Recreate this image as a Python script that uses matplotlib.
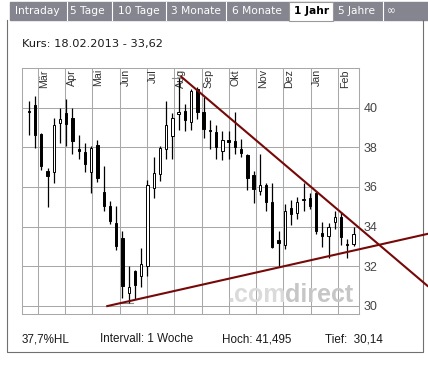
import matplotlib
matplotlib.use("Agg")
import matplotlib.pyplot as plt
import matplotlib.dates as mdates
from matplotlib.patches import Rectangle
import pandas as pd
import numpy as np

plt.rcParams["font.family"] = ["Liberation Sans", "DejaVu Sans"]

# Wochenkerzen (Montag der Woche)
week_start = "2012-02-20"
opens = [39.85, 40.17, 38.67, 36.80, 36.77, 39.26, 39.72, 39.50, 37.90, 37.75,
         36.77, 38.12, 35.76, 35.04, 34.16, 33.40, 30.66, 31.76, 31.52, 32.00,
         35.93, 36.64, 37.91, 38.60, 39.67, 39.85, 39.29, 40.93, 39.80, 38.86,
         38.76, 37.81, 38.37, 38.33, 37.91, 37.61, 36.60, 35.80, 36.10, 35.25,
         33.32, 33.05, 34.95, 34.67, 35.32, 35.42, 35.68, 33.66, 33.54, 34.24,
         34.49, 33.12, 33.10]
highs = [40.35, 40.60, 38.72, 36.94, 39.50, 40.00, 40.44, 39.97, 38.62, 38.20,
         38.08, 38.37, 37.07, 35.29, 35.05, 33.77, 32.00, 31.80, 32.92, 36.35,
         37.53, 38.05, 40.37, 39.73, 41.495, 40.18, 40.95, 41.05, 40.56, 39.40,
         39.13, 38.83, 38.84, 39.77, 38.45, 37.65, 36.80, 37.65, 36.20, 36.20,
         33.80, 35.12, 35.35, 35.47, 36.20, 35.70, 35.80, 34.25, 34.20, 34.77,
         34.75, 33.36, 33.97]
lows = [38.65, 37.95, 36.85, 35.00, 36.20, 38.23, 38.08, 37.65, 37.41, 36.74,
        35.68, 36.26, 34.78, 34.11, 32.81, 30.37, 30.14, 30.35, 30.96, 31.52,
        35.46, 36.32, 37.41, 37.43, 38.90, 38.85, 38.90, 39.45, 38.46, 37.90,
        37.39, 37.38, 37.40, 37.65, 37.50, 35.85, 35.20, 35.60, 34.80, 32.93,
        32.00, 32.88, 34.10, 34.40, 34.80, 34.90, 33.60, 32.95, 32.40, 33.90,
        33.07, 32.43, 33.00]
closes = [39.80, 38.62, 37.07, 36.55, 39.13, 39.46, 39.18, 38.32, 37.83, 37.16,
          37.95, 36.46, 35.05, 34.29, 33.03, 31.01, 30.96, 31.07, 32.09, 36.10,
          36.69, 37.95, 39.13, 39.48, 39.80, 39.38, 40.84, 39.80, 38.92, 38.82,
          38.00, 38.37, 38.26, 38.00, 37.70, 36.48, 35.90, 36.10, 35.22, 32.98,
          33.18, 34.78, 34.62, 35.25, 35.36, 35.04, 33.77, 33.52, 33.99, 34.49,
          33.45, 33.05, 33.62]

# Trendlinien (Endpunkte)
trend_hi_dates = ["2012-08-09", "2013-05-12"]
trend_hi_vals = [41.57, 31.00]
trend_lo_dates = ["2012-05-18", "2013-05-12"]
trend_lo_vals = [29.98, 33.63]

month_labels = ["Mär", "Apr", "Mai", "Jun", "Jul", "Aug", "Sep", "Okt",
                "Nov", "Dez", "Jan", "Feb"]
y_ticks = [30, 32, 34, 36, 38, 40]

tab_labels = ["Intraday", "5 Tage", "10 Tage", "3 Monate", "6 Monate",
              "1 Jahr", "5 Jahre", "\u221e"]
active_tab = "1 Jahr"

dates = pd.date_range(week_start, periods=len(opens), freq="7D")
opens, highs, lows, closes = map(np.array, (opens, highs, lows, closes))

fig = plt.figure(figsize=(4.28, 3.67), dpi=100)

# --- Rahmen, Reiter, Texte (Pixelkoordinaten) ---
bg = fig.add_axes([0, 0, 1, 1])
bg.set_xlim(0, 428)
bg.set_ylim(367, 0)
bg.axis("off")

bg.add_patch(Rectangle((10, 2), 418, 18, color="#85858f", zorder=1))
tab_x = [15, 70, 118, 171, 232, 294, 338, 387]
for sx in [66.7, 112.3, 165.7, 225.7, 383.3]:
    bg.plot([sx, sx], [2, 20], color="white", lw=0.8, zorder=2)
bg.add_patch(Rectangle((289, 2), 44, 19, fc="white", ec="#9a9a9a", lw=0.8, zorder=3))
for lab, tx in zip(tab_labels, tab_x):
    act = lab == active_tab
    bg.text(tx, 11.5, lab, fontsize=7.7, family=["DejaVu Sans"],
            color="black" if act else "white",
            fontweight="bold" if act else "normal",
            ha="left", va="center", zorder=4)

bg.plot([7, 7, 423, 423], [20, 352, 352, 20], color="#707070", lw=0.8)

bg.text(22, 44, f"Kurs: {dates[-1]:%d.%m.%Y} - " + f"{closes[-1]:.2f}".replace(".", ","),
        fontsize=8.2, family=["DejaVu Sans"], color="#1a1a1a", ha="left", va="center")

hoch, tief = highs.max(), lows.min()
hl = (hoch - tief) / tief * 100
de = lambda v: f"{v:g}".replace(".", ",")
bottom = [(22, f"{hl:.1f}".replace(".", ",") + "%HL"),
          (100, "Intervall: 1 Woche"),
          (222, "Hoch: " + de(hoch)),
          (325, "Tief:  " + de(tief))]
for bx, s in bottom:
    bg.text(bx, 339, s, fontsize=8.4, color="#1a1a1a", ha="left", va="center")

# --- Kerzenchart ---
ax = fig.add_axes([22 / 428, 1 - 314 / 367, (359.3 - 22) / 428, (314 - 68.3) / 367])
ax.set_facecolor("white")
x0 = pd.Timestamp("2012-03-01")
ax.set_xlim(mdates.date2num(x0 - pd.Timedelta(days=17.6)),
            mdates.date2num(x0 + pd.Timedelta(days=360.5)))
ax.set_ylim(29.58, 42.0)

months = pd.date_range("2012-03-01", periods=len(month_labels), freq="MS")
ax.set_xticks(mdates.date2num(months))
ax.set_yticks(y_ticks)
ax.grid(True, color="#a8a8a8", lw=0.75, zorder=0)
ax.set_axisbelow(True)
for sp in ax.spines.values():
    sp.set_color("#a8a8a8")
    sp.set_linewidth(0.75)
ax.tick_params(axis="x", length=0, labelbottom=False)
ax.yaxis.tick_right()
ax.tick_params(axis="y", length=0, pad=3, labelsize=9, labelcolor="#444444")

for m, lab in zip(months, month_labels):
    ax.text(mdates.date2num(m + pd.Timedelta(days=1.6)), 41.96, lab, rotation=90,
            ha="left", va="top", fontsize=7.7, color="#333333", zorder=2)

# Wasserzeichen
ax.text(0.608, 0.05, ".com", transform=ax.transAxes, fontsize=18, fontweight="bold",
        color="#dadada", ha="left", va="baseline", zorder=1)
ax.text(0.781, 0.05, "direct", transform=ax.transAxes, fontsize=18, fontweight="bold",
        color="#c6c6c6", ha="left", va="baseline", zorder=1)

xd = mdates.date2num(dates)
ax.vlines(xd, lows, highs, color="black", lw=0.9, zorder=3)
up = closes >= opens
body_lo = np.minimum(opens, closes)
body_h = np.maximum(np.abs(closes - opens), 0.06)
ax.bar(xd, body_h, bottom=body_lo, width=2.6,
       color=np.where(up, "white", "black"), edgecolor="black", lw=0.7, zorder=4)

# Hoch/Tief-Markierung
i_hi, i_lo = highs.argmax(), lows.argmin()
for i, v in [(i_hi, hoch), (i_lo, tief)]:
    ax.plot([xd[i] - 7, xd[i] + 5], [v, v], color="#8c8c8c", lw=0.8, zorder=2)

ax.plot(pd.to_datetime(trend_hi_dates), trend_hi_vals, color="#760808", lw=1.5,
        clip_on=False, zorder=6)
ax.plot(pd.to_datetime(trend_lo_dates), trend_lo_vals, color="#760808", lw=1.5,
        clip_on=False, zorder=6)

fig.savefig("out.png", dpi=100)
